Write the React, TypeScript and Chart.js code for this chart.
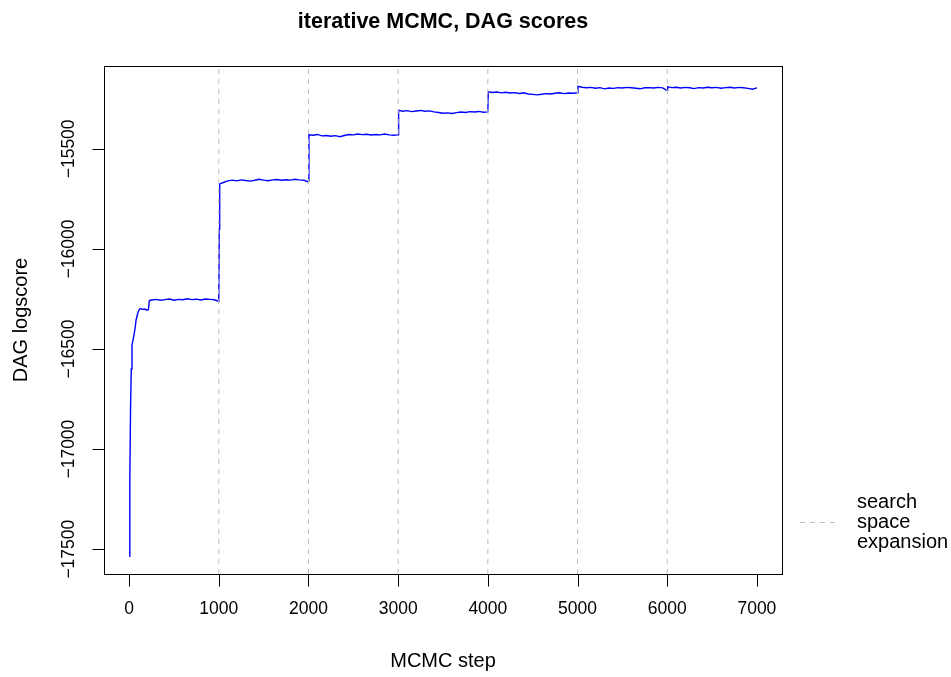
import React, { useEffect, useRef } from "react";
import { Chart, registerables } from "chart.js";

Chart.register(...registerables);

// MCMC trace: step index and DAG logscore
const steps = [
  0, 8, 16, 24, 32, 50, 67, 78, 97, 110, 123, 150, 175, 197, 215, 226,
  250, 300, 350, 400, 450, 500, 550, 600, 650, 700, 750, 800, 850, 900, 950, 990, 1000,
  1005, 1010, 1050, 1100, 1150, 1200, 1250, 1300, 1350, 1400, 1450, 1500, 1550, 1600, 1650, 1700, 1750, 1800, 1850, 1900, 1950, 1990, 2000,
  2005, 2050, 2100, 2150, 2200, 2250, 2300, 2350, 2400, 2450, 2500, 2550, 2600, 2650, 2700, 2750, 2800, 2850, 2900, 2950, 3000,
  3005, 3050, 3100, 3150, 3200, 3250, 3300, 3350, 3400, 3450, 3500, 3550, 3600, 3650, 3700, 3750, 3800, 3850, 3900, 3950, 4000,
  4005, 4050, 4100, 4150, 4200, 4250, 4300, 4350, 4400, 4450, 4500, 4550, 4600, 4650, 4700, 4750, 4800, 4850, 4900, 4950, 5000,
  5005, 5050, 5100, 5150, 5200, 5250, 5300, 5350, 5400, 5450, 5500, 5550, 5600, 5650, 5700, 5750, 5800, 5850, 5900, 5950, 5990, 6000,
  6005, 6050, 6100, 6150, 6200, 6250, 6300, 6350, 6400, 6450, 6500, 6550, 6600, 6650, 6700, 6750, 6800, 6850, 6900, 6950, 7000,
];
const scores = [
  -17535, -17150, -16800, -16600, -16480, -16440, -16395, -16355, -16320, -16305, -16298, -16302, -16300, -16306, -16304, -16258,
  -16255, -16252, -16256, -16253, -16250, -16256, -16252, -16254, -16249, -16253, -16251, -16255, -16250, -16252, -16254, -16260, -16262,
  -15900, -15675, -15668, -15660, -15656, -15660, -15655, -15658, -15661, -15657, -15652, -15656, -15659, -15655, -15653, -15657, -15654, -15656, -15652, -15655, -15657, -15664, -15660,
  -15430, -15432, -15428, -15435, -15433, -15437, -15434, -15439, -15433, -15428, -15430, -15426, -15429, -15427, -15431, -15428, -15430, -15426, -15430, -15432, -15430,
  -15308, -15312, -15309, -15314, -15311, -15308, -15312, -15310, -15315, -15318, -15322, -15320, -15323, -15319, -15316, -15318, -15314, -15316, -15313, -15317, -15315,
  -15215, -15218, -15216, -15220, -15217, -15221, -15219, -15223, -15220, -15226, -15228, -15230, -15227, -15224, -15226, -15222, -15220, -15224, -15221, -15222, -15220,
  -15188, -15192, -15195, -15193, -15197, -15194, -15200, -15196, -15198, -15194, -15196, -15193, -15195, -15197, -15200, -15195, -15194, -15196, -15193, -15195, -15206, -15208,
  -15190, -15194, -15192, -15196, -15193, -15195, -15199, -15194, -15196, -15192, -15195, -15193, -15197, -15194, -15192, -15196, -15193, -15195, -15198, -15202, -15195,
];

// search space expansion points (vertical dashed lines)
const expansionSteps = [1000, 2000, 3000, 4000, 5000, 6000];

const xTicks = [0, 1000, 2000, 3000, 4000, 5000, 6000, 7000];
const yTicks = [-17500, -17000, -16500, -16000, -15500];

const titleText = "iterative MCMC, DAG scores";
const xTitle = "MCMC step";
const yTitle = "DAG logscore";
const legendLines = ["search", "space", "expansion"];

const X_MIN = -280;
const X_MAX = 7280;
const Y_MIN = -17624;
const Y_MAX = -15086;

const FONT = "'Liberation Sans', Arial, Helvetica, sans-serif";
const TICK_PX = 17.5;
const LAB_PX = 20;
const TITLE_PX = 21.5;

const fmt = (v: number) => (v < 0 ? "\u2212" + String(-v) : String(v));

const rAxesPlugin = {
  id: "rAxes",
  afterDraw(chart: any) {
    const ctx = chart.ctx as CanvasRenderingContext2D;
    const { left, right, top, bottom } = chart.chartArea;
    const xs = chart.scales.x;
    const ys = chart.scales.y;
    ctx.save();
    ctx.strokeStyle = "#000";
    ctx.fillStyle = "#000";
    ctx.lineWidth = 1;
    // box
    const bl = Math.round(left) + 0.5;
    const bt = Math.round(top) + 0.5;
    const br = Math.round(right) + 0.5;
    const bb = Math.round(bottom) + 0.5;
    ctx.strokeRect(bl, bt, br - bl, bb - bt);

    // x axis
    ctx.beginPath();
    const xa = Math.round(xs.getPixelForValue(xTicks[0])) + 0.5;
    const xb = Math.round(xs.getPixelForValue(xTicks[xTicks.length - 1])) + 0.5;
    ctx.moveTo(xa, bb);
    ctx.lineTo(xb, bb);
    xTicks.forEach((t) => {
      const px = Math.round(xs.getPixelForValue(t)) + 0.5;
      ctx.moveTo(px, bb);
      ctx.lineTo(px, bb + 12);
    });
    ctx.stroke();
    ctx.font = TICK_PX + "px " + FONT;
    ctx.textAlign = "center";
    ctx.textBaseline = "middle";
    xTicks.forEach((t) => {
      const px = xs.getPixelForValue(t);
      ctx.fillText(fmt(t), px, 609);
    });

    // y axis
    ctx.beginPath();
    const ya = Math.round(ys.getPixelForValue(yTicks[0])) + 0.5;
    const yb = Math.round(ys.getPixelForValue(yTicks[yTicks.length - 1])) + 0.5;
    ctx.moveTo(bl, ya);
    ctx.lineTo(bl, yb);
    yTicks.forEach((t) => {
      const py = Math.round(ys.getPixelForValue(t)) + 0.5;
      ctx.moveTo(bl, py);
      ctx.lineTo(bl - 12, py);
    });
    ctx.stroke();
    yTicks.forEach((t) => {
      const py = ys.getPixelForValue(t);
      ctx.save();
      ctx.translate(69, py);
      ctx.rotate(-Math.PI / 2);
      ctx.fillText(fmt(t), 0, 0);
      ctx.restore();
    });

    // axis titles
    const cx = (left + right) / 2;
    const cy = (top + bottom) / 2;
    ctx.font = LAB_PX + "px " + FONT;
    ctx.fillText(xTitle, cx, 661);
    ctx.save();
    ctx.translate(21, cy);
    ctx.rotate(-Math.PI / 2);
    ctx.fillText(yTitle, 0, 0);
    ctx.restore();

    // main title
    ctx.font = "bold " + TITLE_PX + "px " + FONT;
    ctx.fillText(titleText, cx, 22);

    // legend
    const ds = chart.data.datasets[0];
    ctx.strokeStyle = ds.borderColor;
    ctx.lineWidth = ds.borderWidth;
    ctx.setLineDash(ds.borderDash);
    ctx.beginPath();
    ctx.moveTo(800, 522.5);
    ctx.lineTo(835, 522.5);
    ctx.stroke();
    ctx.setLineDash([]);
    ctx.font = LAB_PX + "px " + FONT;
    ctx.textAlign = "left";
    ctx.fillStyle = "#000";
    legendLines.forEach((s, i) => {
      ctx.fillText(s, 857, 502 + i * 20);
    });
    ctx.restore();
  },
};

export default function App() {
  const ref = useRef<HTMLCanvasElement | null>(null);
  useEffect(() => {
    if (!ref.current) return;
    const traceData = steps.map((s, i) => ({ x: s, y: scores[i] }));
    const expData: any[] = [];
    expansionSteps.forEach((s) => {
      expData.push({ x: s, y: Y_MIN });
      expData.push({ x: s, y: Y_MAX });
      expData.push({ x: s, y: null });
    });
    const chart = new Chart(ref.current, {
      type: "line",
      data: {
        datasets: [
          {
            label: legendLines.join(" "),
            data: expData,
            borderColor: "#BEBEBE",
            borderWidth: 1,
            borderDash: [5, 5],
            pointRadius: 0,
            spanGaps: false,
            fill: false,
          },
          {
            label: "DAG logscore",
            data: traceData,
            borderColor: "#0000FF",
            borderWidth: 1.4,
            pointRadius: 0,
            tension: 0,
            fill: false,
          },
        ],
      },
      options: {
        animation: false,
        responsive: false,
        maintainAspectRatio: false,
        layout: { padding: { left: 104, right: 169, top: 66, bottom: 103 } },
        plugins: {
          legend: { display: false },
          title: { display: false },
          tooltip: { enabled: false },
        },
        scales: {
          x: { type: "linear", min: X_MIN, max: X_MAX, display: false },
          y: { type: "linear", min: Y_MIN, max: Y_MAX, display: false },
        },
      },
      plugins: [rAxesPlugin],
    });
    return () => chart.destroy();
  }, []);
  return (
    <div style={{ position: "fixed", left: 0, top: 0, width: 951, height: 677, background: "#fff" }}>
      <canvas ref={ref} width={951} height={677} style={{ width: 951, height: 677 }} />
    </div>
  );
}
